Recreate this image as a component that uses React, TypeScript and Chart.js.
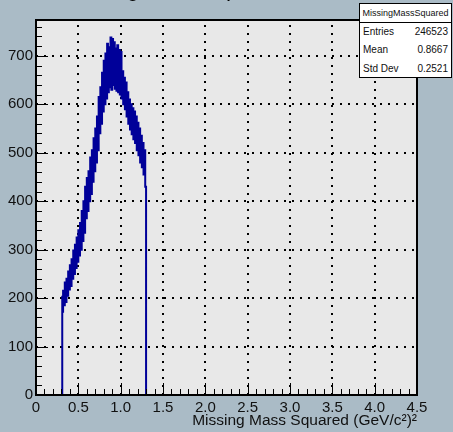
import React, { useEffect, useRef } from "react";
import { Chart, registerables } from "chart.js";

Chart.register(...registerables);

// Histogram: lower edge of first filled bin, bin width, and bin contents
const binStart = 0.31;
const binWidth = 0.01;
const counts = [
  205, 172, 215, 185, 232, 192, 240, 205, 255, 218,
  268, 225, 280, 240, 298, 250, 310, 262, 325, 275,
  340, 288, 355, 300, 380, 318, 400, 335, 430, 365,
  448, 380, 462, 400, 490, 415, 505, 440, 530, 462,
  550, 480, 575, 505, 615, 540, 635, 560, 665, 585,
  690, 600, 705, 612, 725, 625, 718, 635, 738, 630,
  735, 640, 728, 632, 715, 628, 722, 625, 712, 620,
  708, 612, 668, 600, 655, 590, 645, 575, 625, 560,
  610, 548, 600, 538, 592, 528, 585, 520, 575, 505,
  562, 495, 550, 480, 535, 470, 520, 455, 505, 430,
];

const xMin = 0;
const xMax = 4.5;
const xMajorStep = 0.5;
const xMinorStep = 0.1;
const yMin = 0;
const yMax = 774;
const yMajorStep = 100;
const yMinorStep = 20;

const histTitle = "Missing Mass Squared";
const xTitle = "Missing Mass Squared (GeV/c\u00B2)\u00B2";
const statsName = "MissingMassSquared";
const statsLabels = ["Entries", "Mean", "Std Dev"];
const statsValues = ["246523", "0.8667", "0.2521"];

const FONT = "'Liberation Sans', Arial, Helvetica, sans-serif";
const BG = "#aabbc6";
const FRAME_BG = "#e8e8e8";
const LINE = "#000099";

function buildPoints() {
  const pts: { x: number; y: number }[] = [];
  pts.push({ x: xMin, y: 0 });
  pts.push({ x: binStart, y: 0 });
  counts.forEach((c, i) => pts.push({ x: binStart + i * binWidth, y: c }));
  pts.push({ x: binStart + counts.length * binWidth, y: 0 });
  pts.push({ x: xMax, y: 0 });
  return pts;
}

const rootFrame = {
  id: "rootFrame",
  beforeDraw(chart: any) {
    const { ctx, chartArea: a } = chart;
    ctx.save();
    ctx.fillStyle = FRAME_BG;
    ctx.fillRect(a.left, a.top, a.right - a.left, a.bottom - a.top);
    ctx.restore();
  },
  beforeDatasetsDraw(chart: any) {
    const { ctx, chartArea: a, scales } = chart;
    const xs = scales.x;
    const ys = scales.y;
    ctx.save();
    ctx.strokeStyle = "#000";
    ctx.lineWidth = 2;
    ctx.setLineDash([2, 6]);
    for (let v = xMin + xMajorStep; v < xMax - 1e-9; v += xMajorStep) {
      const px = Math.round(xs.getPixelForValue(v));
      ctx.beginPath();
      ctx.moveTo(px, a.bottom);
      ctx.lineTo(px, a.top);
      ctx.stroke();
    }
    for (let v = yMin + yMajorStep; v < yMax; v += yMajorStep) {
      const py = Math.round(ys.getPixelForValue(v));
      ctx.beginPath();
      ctx.moveTo(a.left, py);
      ctx.lineTo(a.right, py);
      ctx.stroke();
    }
    ctx.restore();
  },
  afterDatasetsDraw(chart: any) {
    const { ctx, chartArea: a, scales } = chart;
    const xs = scales.x;
    const ys = scales.y;
    ctx.save();
    ctx.strokeStyle = "#000";
    ctx.lineWidth = 1;
    ctx.setLineDash([]);
    const nx = Math.round((xMax - xMin) / xMinorStep);
    for (let i = 0; i <= nx; i++) {
      const v = xMin + i * xMinorStep;
      const major = i % Math.round(xMajorStep / xMinorStep) === 0;
      const px = Math.round(xs.getPixelForValue(v)) + 0.5;
      ctx.beginPath();
      ctx.moveTo(px, a.bottom);
      ctx.lineTo(px, a.bottom - (major ? 12 : 6));
      ctx.stroke();
    }
    const ny = Math.floor((yMax - yMin) / yMinorStep);
    for (let i = 0; i <= ny; i++) {
      const v = yMin + i * yMinorStep;
      const major = i % Math.round(yMajorStep / yMinorStep) === 0;
      const py = Math.round(ys.getPixelForValue(v)) + 0.5;
      ctx.beginPath();
      ctx.moveTo(a.left, py);
      ctx.lineTo(a.left + (major ? 12 : 6), py);
      ctx.stroke();
    }
    ctx.lineWidth = 2;
    ctx.strokeRect(a.left, a.top, a.right - a.left, a.bottom - a.top);
    ctx.restore();
  },
  afterDraw(chart: any) {
    const { ctx } = chart;
    ctx.save();
    ctx.fillStyle = "#000";
    ctx.font = `22px ${FONT}`;
    ctx.textAlign = "center";
    ctx.textBaseline = "alphabetic";
    ctx.fillText(histTitle, 176, -4);
    ctx.restore();
  },
};

export default function App() {
  const canvasRef = useRef<HTMLCanvasElement | null>(null);

  useEffect(() => {
    const canvas = canvasRef.current;
    if (!canvas) return;
    const tickFont = { family: FONT, size: 15 };
    const chart = new Chart(canvas, {
      type: "line",
      data: {
        datasets: [
          {
            data: buildPoints(),
            borderColor: LINE,
            backgroundColor: LINE,
            borderWidth: 2,
            pointRadius: 0,
            stepped: "after",
            fill: false,
            tension: 0,
          },
        ],
      },
      options: {
        responsive: false,
        animation: false,
        devicePixelRatio: 1,
        layout: { padding: { left: 0, top: 20, right: 36, bottom: 0 } },
        plugins: {
          legend: { display: false },
          tooltip: { enabled: false },
          title: { display: false },
        },
        scales: {
          x: {
            type: "linear",
            min: xMin,
            max: xMax,
            grid: { display: false, drawTicks: false },
            border: { display: false },
            ticks: {
              stepSize: xMajorStep,
              padding: 4,
              font: tickFont,
              color: "#111",
              maxRotation: 0,
              autoSkip: false,
              includeBounds: false,
            },
            title: {
              display: true,
              text: xTitle,
              align: "end",
              color: "#111",
              font: { family: FONT, size: 15.5 },
              padding: { top: 0, bottom: 2 },
            },
            afterFit: (s: any) => {
              s.height = 37;
            },
          },
          y: {
            type: "linear",
            min: yMin,
            max: yMax,
            grid: { display: false, drawTicks: false },
            border: { display: false },
            ticks: {
              stepSize: yMajorStep,
              padding: 3,
              font: tickFont,
              color: "#111",
              includeBounds: false,
            },
            afterFit: (s: any) => {
              s.width = 36;
            },
          },
        },
      },
      plugins: [rootFrame],
    } as any);
    return () => chart.destroy();
  }, []);

  return (
    <div
      style={{
        position: "fixed",
        left: 0,
        top: 0,
        width: 453,
        height: 432,
        background: BG,
        overflow: "hidden",
      }}
    >
      <canvas
        ref={canvasRef}
        width={453}
        height={432}
        style={{ position: "absolute", left: 0, top: 0, width: 453, height: 432 }}
      />
      <div
        style={{
          position: "absolute",
          left: 359,
          top: 3,
          width: 93,
          height: 75,
          boxSizing: "border-box",
          background: "#fff",
          border: "1px solid #000",
          fontFamily: FONT,
          color: "#111",
        }}
      >
        <div
          style={{
            height: 18,
            lineHeight: "18px",
            borderBottom: "1px solid #000",
            textAlign: "center",
            fontSize: 9,
          }}
        >
          {statsName}
        </div>
        {statsLabels.map((lab, i) => (
          <div
            key={lab}
            style={{
              height: 18.3,
              lineHeight: "18.3px",
              display: "flex",
              justifyContent: "space-between",
              padding: "0 3px 0 3px",
              fontSize: 10,
            }}
          >
            <span>{lab}</span>
            <span>{statsValues[i]}</span>
          </div>
        ))}
      </div>
    </div>
  );
}
